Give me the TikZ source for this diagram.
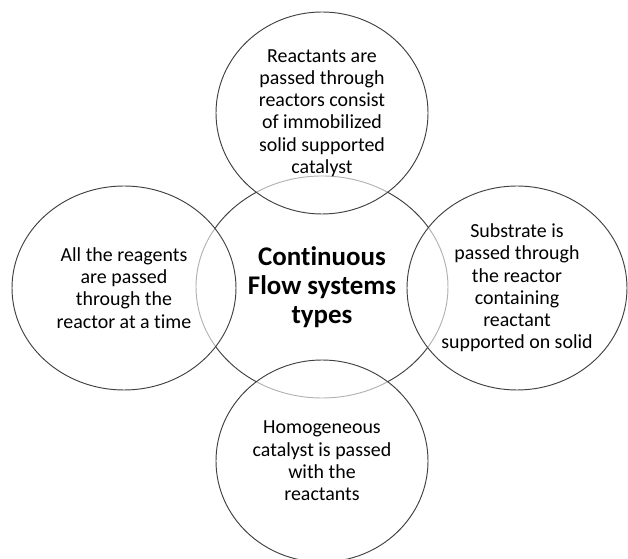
\documentclass[tikz,border=0pt]{standalone}
\usepackage{fontspec}
\setmainfont{Carlito}[Ligatures=NoCommon]
\usetikzlibrary{backgrounds}
\begin{document}
\begin{tikzpicture}
    \useasboundingbox (0,0) rectangle (18.84,16.77);
    \begin{scope}[every node/.style={align=center,inner sep=0pt,font=\fontsize{17}{19}\selectfont}]
        \node[font=\bfseries\fontsize{23}{24.8}\selectfont] (hub) at (9.66,8.16) {Continuous\\Flow systems\\types};
        \node (immob) at (9.66,13.38) {Reactants are\\passed through\\reactors consist\\of immobilized\\solid supported\\catalyst};
        \node (batch) at (3.72,8.13) {All the reagents\\are passed\\through the\\reactor at a time};
        \node (solid) at (15.51,8.13) {Substrate is\\passed through\\the reactor\\containing\\reactant\\supported on solid};
        \node (homog) at (9.66,2.94) {Homogeneous\\catalyst is passed\\with the\\reactants};
    \end{scope}
    \begin{scope}[on background layer,every path/.style={draw=black!75,line width=0.8pt}]
        \path (hub) ellipse [x radius=3.78,y radius=3.33];
        % outer rings are half see-through so the middle ring fades under them
        \begin{scope}[fill=white,fill opacity=0.6]
            \path[fill] (immob) ellipse [x radius=3.18,y radius=3.03];
            \path[fill] (homog) ellipse [x radius=3.18,y radius=3.03];
            \path[fill] (batch) ellipse [x radius=3.36,y radius=3.06];
            \path[fill] (solid) ellipse [x radius=3.30,y radius=3.06];
        \end{scope}
    \end{scope}
\end{tikzpicture}
\end{document}
